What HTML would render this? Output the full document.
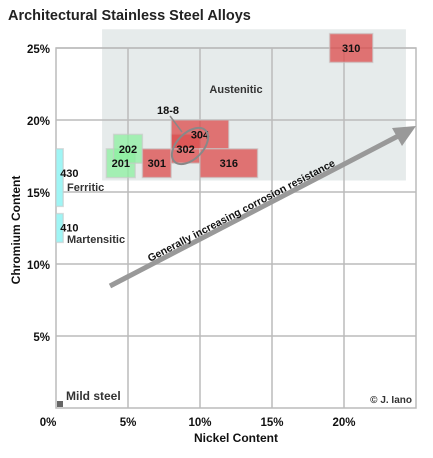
<!DOCTYPE html>
<html><head><meta charset="utf-8"><style>
body{margin:0;background:#fff;}
svg text{font-family:"Liberation Sans",Arial,sans-serif;font-weight:bold;}
</style></head><body>
<svg width="433" height="453" xmlns="http://www.w3.org/2000/svg">
<text x="8" y="20" font-size="14.5" fill="#222">Architectural Stainless Steel Alloys</text>
<g id="grid"></g>
<g id="regions"></g>
<g id="labels"></g>
</svg>
<script>
const xTicks=[0,5,10,15,20];
const yTicks=[5,10,15,20,25];
const xTickLabels=["0%","5%","10%","15%","20%"];
const yTickLabels=["5%","10%","15%","20%","25%"];
const alloyNames=["430","410","201","202","301","302","304","316","310"];
const niMin=[0,0,3.5,4,6,8,8,10,19];
const niMax=[0.5,0.5,5.5,6,8,10,12,14,22];
const crMin=[14,11.5,16,17,16,17,18,16,24];
const crMax=[18,13.5,18,19,18,19,20,18,26];
const families=["ferritic","martensitic","austenitic","austenitic","austenitic","austenitic","austenitic","austenitic","austenitic"];
const NS="http://www.w3.org/2000/svg";
const X0=56,Y0=408,S=14.4;
const sx=v=>X0+v*S, sy=v=>Y0-v*S;
const svg=document.querySelector('svg');
function mk(tag,attrs,parent,text){const e=document.createElementNS(NS,tag);for(const k in attrs)e.setAttribute(k,attrs[k]);if(text!==undefined)e.textContent=text;(parent||svg).appendChild(e);return e;}
const grid=document.getElementById('grid'),reg=document.getElementById('regions'),lab=document.getElementById('labels');
let bg=mk('rect',{x:sx(3.2),y:sy(26.3),width:sx(24.3)-sx(3.2),height:sy(15.8)-sy(26.3),fill:'#e6ebeb'},grid);


let frame=mk('rect',{x:X0,y:sy(25),width:sx(25)-X0,height:Y0-sy(25),fill:'none',stroke:'#bbb','stroke-width':1.5},grid);


xTicks.forEach((t,i)=>{if(t>0){let l=mk('line',{x1:sx(t),x2:sx(t),y1:sy(25),y2:Y0,stroke:'#bbb','stroke-width':1.5},grid);

}
let tx=mk('text',{x:sx(t)+(t==0?-8:0),y:Y0+18,'font-size':11.5,'text-anchor':'middle',fill:'#111'},lab,xTickLabels[i]);

});
yTicks.forEach((t,i)=>{let l=mk('line',{x1:X0,x2:sx(25),y1:sy(t),y2:sy(t),stroke:'#bbb','stroke-width':1.5},grid);


let tx=mk('text',{x:X0-6,y:sy(t)+5,'font-size':11.5,'text-anchor':'end',fill:'#111'},lab,yTickLabels[i]);

});
const fills={ferritic:'#9ff5f5',martensitic:'#9ff5f5',austenitic:'rgba(220,80,80,0.78)'};
alloyNames.forEach((n,i)=>{let f=fills[families[i]];if(n==='201'||n==='202')f='rgba(140,240,160,0.75)';
let r=mk('rect',{x:sx(niMin[i]),y:sy(crMax[i]),width:sx(niMax[i])-sx(niMin[i]),height:sy(crMin[i])-sy(crMax[i]),fill:f,stroke:'rgba(200,200,200,0.6)','stroke-width':1.5},reg);


let cx=(sx(niMin[i])+sx(niMax[i]))/2,cy=(sy(crMin[i])+sy(crMax[i]))/2+4,anchor='middle';
if(n==='430'||n==='410'){cx=sx(niMax[i])-3;anchor='start';cy=sy(crMax[i])+(n==='430'?28:18);}
if(n==='304')cy=sy(19.2)+7;
let t=mk('text',{x:cx,y:cy,'font-size':11,'text-anchor':anchor,fill:'#111'},lab,n);

});
let ms=mk('rect',{x:57,y:401,width:6,height:6,fill:'#666'},reg);


</script>
<svg width="433" height="453" style="position:absolute;left:0;top:0" xmlns="http://www.w3.org/2000/svg">
<ellipse cx="190" cy="146" rx="22" ry="13" transform="rotate(-45 190 146)" fill="none" stroke="#888" stroke-width="2"/>
<line x1="170" y1="116" x2="182" y2="132" stroke="#888" stroke-width="1.5"/>
<text x="168" y="114" font-size="11" text-anchor="middle" fill="#111">18-8</text>
<text x="236" y="93" font-size="11" text-anchor="middle" fill="#333">Austenitic</text>
<text x="67" y="191" font-size="11" fill="#333">Ferritic</text>
<text x="67" y="243" font-size="11" fill="#333">Martensitic</text>
<text x="66" y="400" font-size="12" fill="#333">Mild steel</text>
<text x="412" y="403" font-size="10" text-anchor="end" fill="#333">© J. Iano</text>
<line x1="110" y1="286" x2="402" y2="134" stroke="#999" stroke-width="5"/>
<polygon points="416,126 392,128 402,146" fill="#999"/>
<text transform="translate(150,262) rotate(-27.5)" font-size="10.5" fill="#111">Generally increasing corrosion resistance</text>
<text x="236" y="442" font-size="12" text-anchor="middle" fill="#111">Nickel Content</text>
<text transform="translate(20,230) rotate(-90)" font-size="12" text-anchor="middle" fill="#111">Chromium Content</text>
</svg>
</body></html>
